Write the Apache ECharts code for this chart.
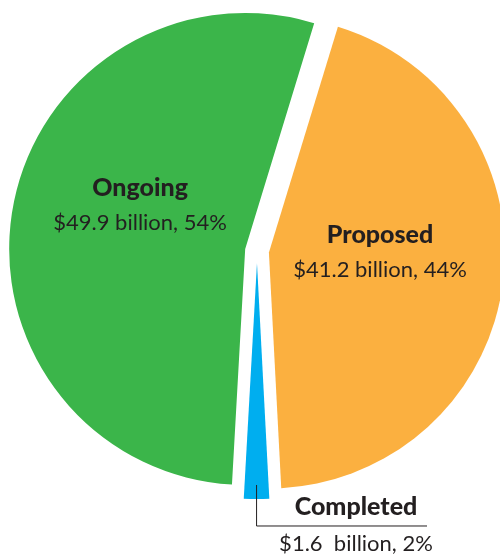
<!DOCTYPE html>
<html>
<head>
<meta charset="utf-8">
<script src="https://cdn.jsdelivr.net/npm/echarts@6/dist/echarts.min.js"></script>
<style>html,body{margin:0;padding:0;background:#fff}#c{width:500px;height:558px}</style>
</head>
<body>
<div id="c"></div>
<script>
const categories = ['Proposed', 'Completed', 'Ongoing'];
const values = [41.2, 1.6, 49.9];
const valueLabels = ['$41.2 billion', '$1.6  billion', '$49.9 billion'];
const percents = ['44%', '2%', '54%'];
const colors = ['#FBB040', '#00AEEF', '#3BB54A'];

const chart = echarts.init(document.getElementById('c'), null, {renderer: 'canvas'});
const FONT = 'Lato, "Open Sans", sans-serif';
const INK = '#231F20';
const rich = {
  t: {fontFamily: FONT, fontWeight: 900, fontSize: 25, color: INK, lineHeight: 35},
  v: {fontFamily: FONT, fontSize: 22, color: INK, lineHeight: 35}
};
const labelShift = [[-9, -15], [0, 0], [14, -22]];
const OFFSET = 12;

chart.setOption({
  animation: false,
  series: [{
    type: 'pie',
    center: [257, 251],
    radius: [0, 236],
    startAngle: 73,
    clockwise: true,
    selectedMode: 'multiple',
    selectedOffset: OFFSET,
    emphasis: {disabled: true},
    data: categories.map((name, i) => ({
      name: name,
      value: values[i],
      selected: true,
      itemStyle: {color: colors[i]},
      label: {show: i !== 1, position: 'inside', rich: rich, align: 'center'},
      labelLine: {show: false}
    })),
    label: {
      formatter: p => '{t|' + p.name + '}\n{v|' + valueLabels[p.dataIndex] + ', ' + percents[p.dataIndex] + '}'
    },
    labelLayout: p => ({dx: labelShift[p.dataIndex][0], dy: labelShift[p.dataIndex][1]})
  }]
});

// Callout for the small "Completed" slice, placed from the pie's own layout
const data = chart.getModel().getSeriesByIndex(0).getData();
const lay = data.getItemLayout(1);
const mid = (lay.startAngle + lay.endAngle) / 2;
const sx = lay.cx + Math.cos(mid) * OFFSET;
const sy = lay.cy + Math.sin(mid) * OFFSET;
const lx = sx + Math.cos(mid) * (lay.r - 14);
const ly0 = sy + Math.sin(mid) * (lay.r - 14);
const tipY = sy + Math.sin(mid) * lay.r;
const lineY = tipY + 27;
const lineEnd = 427;
const textX = 356;
chart.setOption({
  graphic: [
    {type: 'polyline', silent: true, shape: {points: [[lx, ly0], [lx, lineY], [lineEnd, lineY]]},
     style: {stroke: INK, lineWidth: 1, fill: null}, z: 10},
    {type: 'text', silent: true, x: textX, y: lineY - 19,
     style: {text: categories[1], font: '900 25px ' + FONT, fill: INK, align: 'center', verticalAlign: 'middle'}, z: 10},
    {type: 'text', silent: true, x: textX, y: lineY + 18,
     style: {text: valueLabels[1] + ', ' + percents[1], font: '22px ' + FONT, fill: INK, align: 'center', verticalAlign: 'middle'}, z: 10}
  ]
});
</script>
</body>
</html>
